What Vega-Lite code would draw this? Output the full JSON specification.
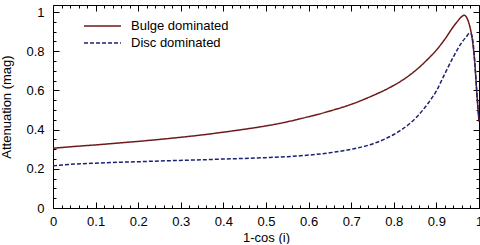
{
  "$schema": "https://vega.github.io/schema/vega-lite/v6.json",
  "width": 426,
  "height": 203,
  "padding": {"top": 4, "left": 0, "right": 0, "bottom": 0},
  "config": {
    "view": {"stroke": null},
    "font": "Liberation Sans",
    "axis": {
      "grid": false,
      "domainColor": "#000000",
      "domainWidth": 1,
      "tickColor": "#000000",
      "tickWidth": 1,
      "labelColor": "#000000",
      "titleColor": "#000000",
      "labelFont": "Liberation Sans",
      "titleFont": "Liberation Sans",
      "labelFontSize": 13,
      "titleFontSize": 13,
      "titleFontWeight": "normal",
      "labelFlush": false,
      "labelOverlap": false,
      "labelBound": false
    },
    "legend": {
      "labelFont": "Liberation Sans",
      "labelFontSize": 13,
      "labelColor": "#000000"
    }
  },
  "data": {
    "values": [
      {"series": "Bulge dominated", "x": 0.00, "y": 0.305},
      {"series": "Bulge dominated", "x": 0.05, "y": 0.314},
      {"series": "Bulge dominated", "x": 0.10, "y": 0.322},
      {"series": "Bulge dominated", "x": 0.15, "y": 0.331},
      {"series": "Bulge dominated", "x": 0.20, "y": 0.340},
      {"series": "Bulge dominated", "x": 0.25, "y": 0.350},
      {"series": "Bulge dominated", "x": 0.30, "y": 0.361},
      {"series": "Bulge dominated", "x": 0.35, "y": 0.373},
      {"series": "Bulge dominated", "x": 0.40, "y": 0.387},
      {"series": "Bulge dominated", "x": 0.45, "y": 0.402},
      {"series": "Bulge dominated", "x": 0.50, "y": 0.419},
      {"series": "Bulge dominated", "x": 0.55, "y": 0.440},
      {"series": "Bulge dominated", "x": 0.60, "y": 0.466},
      {"series": "Bulge dominated", "x": 0.65, "y": 0.495},
      {"series": "Bulge dominated", "x": 0.70, "y": 0.529},
      {"series": "Bulge dominated", "x": 0.75, "y": 0.573},
      {"series": "Bulge dominated", "x": 0.78, "y": 0.603},
      {"series": "Bulge dominated", "x": 0.80, "y": 0.626},
      {"series": "Bulge dominated", "x": 0.82, "y": 0.652},
      {"series": "Bulge dominated", "x": 0.85, "y": 0.700},
      {"series": "Bulge dominated", "x": 0.88, "y": 0.760},
      {"series": "Bulge dominated", "x": 0.90, "y": 0.806},
      {"series": "Bulge dominated", "x": 0.92, "y": 0.862},
      {"series": "Bulge dominated", "x": 0.94, "y": 0.926},
      {"series": "Bulge dominated", "x": 0.95, "y": 0.954},
      {"series": "Bulge dominated", "x": 0.96, "y": 0.978},
      {"series": "Bulge dominated", "x": 0.965, "y": 0.984},
      {"series": "Bulge dominated", "x": 0.97, "y": 0.976},
      {"series": "Bulge dominated", "x": 0.975, "y": 0.952},
      {"series": "Bulge dominated", "x": 0.98, "y": 0.912},
      {"series": "Bulge dominated", "x": 0.985, "y": 0.848},
      {"series": "Bulge dominated", "x": 0.99, "y": 0.745},
      {"series": "Bulge dominated", "x": 0.995, "y": 0.585},
      {"series": "Bulge dominated", "x": 1.00, "y": 0.440},
      {"series": "Disc dominated", "x": 0.00, "y": 0.215},
      {"series": "Disc dominated", "x": 0.05, "y": 0.224},
      {"series": "Disc dominated", "x": 0.10, "y": 0.229},
      {"series": "Disc dominated", "x": 0.15, "y": 0.233},
      {"series": "Disc dominated", "x": 0.20, "y": 0.236},
      {"series": "Disc dominated", "x": 0.25, "y": 0.240},
      {"series": "Disc dominated", "x": 0.30, "y": 0.243},
      {"series": "Disc dominated", "x": 0.35, "y": 0.246},
      {"series": "Disc dominated", "x": 0.40, "y": 0.250},
      {"series": "Disc dominated", "x": 0.45, "y": 0.253},
      {"series": "Disc dominated", "x": 0.50, "y": 0.257},
      {"series": "Disc dominated", "x": 0.55, "y": 0.262},
      {"series": "Disc dominated", "x": 0.60, "y": 0.270},
      {"series": "Disc dominated", "x": 0.65, "y": 0.282},
      {"series": "Disc dominated", "x": 0.70, "y": 0.300},
      {"series": "Disc dominated", "x": 0.75, "y": 0.327},
      {"series": "Disc dominated", "x": 0.78, "y": 0.353},
      {"series": "Disc dominated", "x": 0.80, "y": 0.375},
      {"series": "Disc dominated", "x": 0.82, "y": 0.402},
      {"series": "Disc dominated", "x": 0.85, "y": 0.456},
      {"series": "Disc dominated", "x": 0.88, "y": 0.533},
      {"series": "Disc dominated", "x": 0.90, "y": 0.598},
      {"series": "Disc dominated", "x": 0.92, "y": 0.686},
      {"series": "Disc dominated", "x": 0.94, "y": 0.772},
      {"series": "Disc dominated", "x": 0.96, "y": 0.846},
      {"series": "Disc dominated", "x": 0.97, "y": 0.873},
      {"series": "Disc dominated", "x": 0.978, "y": 0.892},
      {"series": "Disc dominated", "x": 0.982, "y": 0.888},
      {"series": "Disc dominated", "x": 0.986, "y": 0.845},
      {"series": "Disc dominated", "x": 0.99, "y": 0.745},
      {"series": "Disc dominated", "x": 0.995, "y": 0.585},
      {"series": "Disc dominated", "x": 1.00, "y": 0.450}
    ]
  },
  "layer": [
    {
      "mark": {"type": "line", "strokeWidth": 1.5, "interpolate": "monotone"},
      "encoding": {
        "x": {
          "field": "x", "type": "quantitative",
          "scale": {"domain": [0, 1], "nice": false, "zero": false},
          "axis": {
            "orient": "bottom",
            "values": [0, 0.1, 0.2, 0.3, 0.4, 0.5, 0.6, 0.7, 0.8, 0.9, 1],
            "format": "~g",
            "tickSize": -6,
            "labelPadding": 13,
            "title": "1-cos (i)",
            "titlePadding": 3
          }
        },
        "y": {
          "field": "y", "type": "quantitative",
          "scale": {"domain": [0, 1.036], "nice": false, "zero": false},
          "axis": {
            "orient": "left",
            "values": [0, 0.2, 0.4, 0.6, 0.8, 1],
            "format": "~g",
            "tickSize": -6,
            "labelPadding": 15,
            "title": "Attenuation  (mag)",
            "titlePadding": 12
          }
        },
        "color": {
          "field": "series", "type": "nominal",
          "scale": {"domain": ["Bulge dominated", "Disc dominated"], "range": ["#6e1a1a", "#1b2272"]},
          "legend": {
            "title": null,
            "orient": "none",
            "legendX": 39.5,
            "legendY": 11,
            "padding": 0,
            "symbolType": "M-2.05,0H2.05",
            "symbolSize": 324,
            "symbolStrokeWidth": 1.5,
            "labelOffset": 18.5,
            "rowPadding": 0
          }
        },
        "strokeDash": {
          "field": "series", "type": "nominal",
          "scale": {"domain": ["Bulge dominated", "Disc dominated"], "range": [[1, 0], [4, 2]]},
          "legend": {
            "title": null,
            "orient": "none",
            "legendX": 39.5,
            "legendY": 11,
            "padding": 0,
            "symbolType": "M-2.05,0H2.05",
            "symbolSize": 324,
            "symbolStrokeWidth": 1.5,
            "labelOffset": 18.5,
            "rowPadding": 0
          }
        }
      }
    },
    {
      "mark": {"type": "line", "opacity": 0},
      "encoding": {
        "x": {
          "field": "x", "type": "quantitative",
          "axis": {
            "orient": "top",
            "values": [0, 0.1, 0.2, 0.3, 0.4, 0.5, 0.6, 0.7, 0.8, 0.9, 1],
            "tickSize": -6,
            "labels": false,
            "title": null
          }
        },
        "y": {
          "field": "y", "type": "quantitative",
          "axis": {
            "orient": "right",
            "values": [0, 0.2, 0.4, 0.6, 0.8, 1],
            "tickSize": -6,
            "labels": false,
            "title": null
          }
        }
      }
    },
    {
      "mark": {"type": "line", "opacity": 0},
      "encoding": {
        "x": {
          "field": "x", "type": "quantitative",
          "axis": {
            "orient": "bottom",
            "values": [0.02, 0.04, 0.06, 0.08, 0.12, 0.14, 0.16, 0.18, 0.22, 0.24, 0.26, 0.28, 0.32, 0.34, 0.36, 0.38, 0.42, 0.44, 0.46, 0.48, 0.52, 0.54, 0.56, 0.58, 0.62, 0.64, 0.66, 0.68, 0.72, 0.74, 0.76, 0.78, 0.82, 0.84, 0.86, 0.88, 0.92, 0.94, 0.96, 0.98],
            "tickSize": -3,
            "labels": false,
            "domain": false,
            "title": null
          }
        },
        "y": {
          "field": "y", "type": "quantitative",
          "axis": {
            "orient": "left",
            "values": [0.05, 0.1, 0.15, 0.25, 0.3, 0.35, 0.45, 0.5, 0.55, 0.65, 0.7, 0.75, 0.85, 0.9, 0.95],
            "tickSize": -3,
            "labels": false,
            "domain": false,
            "title": null
          }
        }
      }
    },
    {
      "mark": {"type": "line", "opacity": 0},
      "encoding": {
        "x": {
          "field": "x", "type": "quantitative",
          "axis": {
            "orient": "top",
            "values": [0.02, 0.04, 0.06, 0.08, 0.12, 0.14, 0.16, 0.18, 0.22, 0.24, 0.26, 0.28, 0.32, 0.34, 0.36, 0.38, 0.42, 0.44, 0.46, 0.48, 0.52, 0.54, 0.56, 0.58, 0.62, 0.64, 0.66, 0.68, 0.72, 0.74, 0.76, 0.78, 0.82, 0.84, 0.86, 0.88, 0.92, 0.94, 0.96, 0.98],
            "tickSize": -3,
            "labels": false,
            "domain": false,
            "title": null
          }
        },
        "y": {
          "field": "y", "type": "quantitative",
          "axis": {
            "orient": "right",
            "values": [0.05, 0.1, 0.15, 0.25, 0.3, 0.35, 0.45, 0.5, 0.55, 0.65, 0.7, 0.75, 0.85, 0.9, 0.95],
            "tickSize": -3,
            "labels": false,
            "domain": false,
            "title": null
          }
        }
      }
    }
  ],
  "resolve": {"axis": {"x": "independent", "y": "independent"}}
}
